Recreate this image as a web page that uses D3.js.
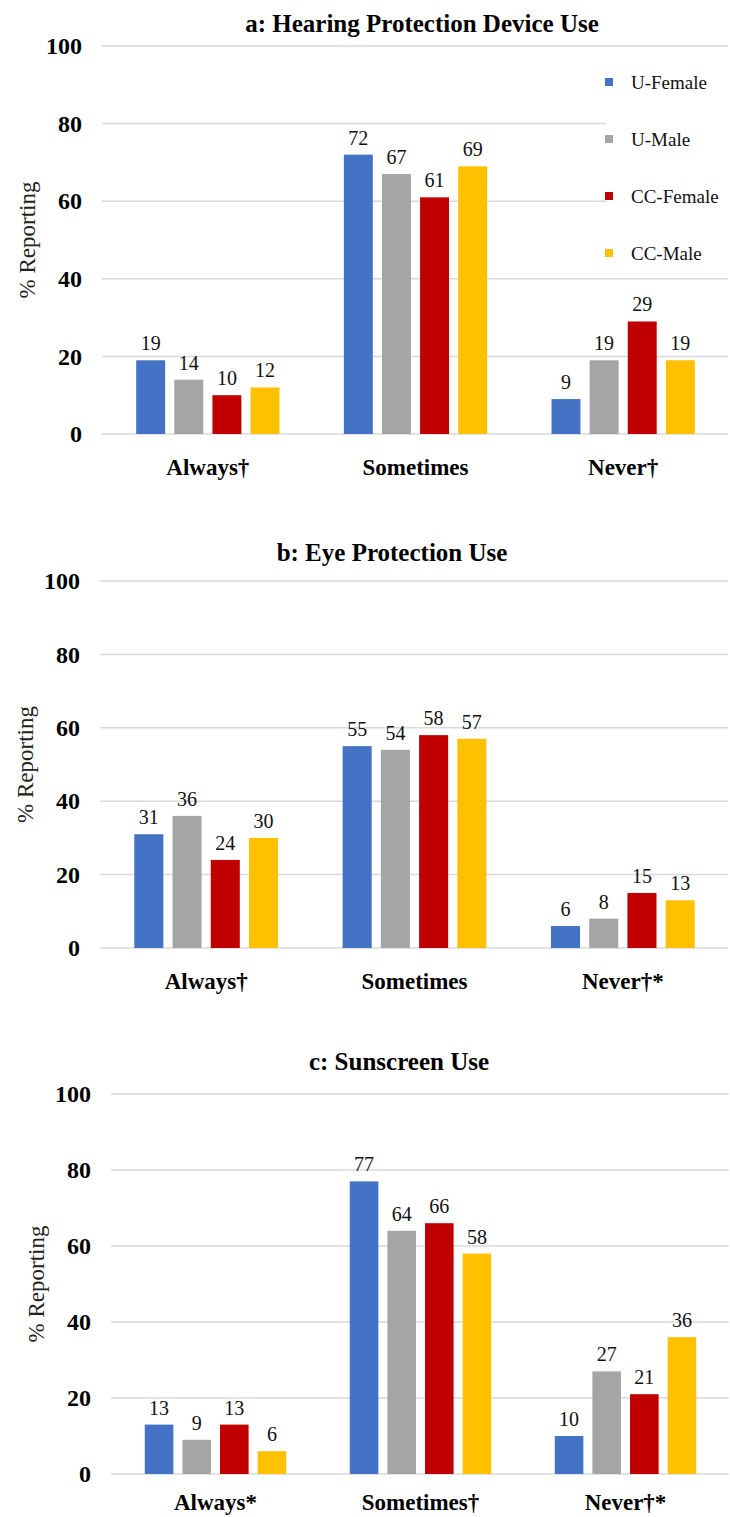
<!DOCTYPE html>
<html>
<head>
<meta charset="utf-8">
<script src="https://cdn.jsdelivr.net/npm/d3@7"></script>
<style>
  body { margin: 0; background: #fff; }
  svg { display: block; font-family: "Liberation Serif", "Times New Roman", serif; }
</style>
</head>
<body>
<svg id="chart"></svg>
<script>
const groups = ["U-Female", "U-Male", "CC-Female", "CC-Male"];
const yTicks = [0, 20, 40, 60, 80, 100];

const hearingTitle = "a: Hearing Protection Device Use";
const hearingLabels = ["Always†", "Sometimes", "Never†"];
const hearingValues = [[19, 14, 10, 12], [72, 67, 61, 69], [9, 19, 29, 19]];

const eyeTitle = "b: Eye Protection Use";
const eyeLabels = ["Always†", "Sometimes", "Never†*"];
const eyeValues = [[31, 36, 24, 30], [55, 54, 58, 57], [6, 8, 15, 13]];

const sunTitle = "c: Sunscreen Use";
const sunLabels = ["Always*", "Sometimes†", "Never†*"];
const sunValues = [[13, 9, 13, 6], [77, 64, 66, 58], [10, 27, 21, 36]];

const width = 730;
const height = 1517;
const fontFamily = "'Liberation Serif', 'Times New Roman', serif";

const color = d3.scaleOrdinal(groups, ["#4472C4", "#A5A5A5", "#C00000", "#FFC000"]);

const panels = [
  { title: hearingTitle, labels: hearingLabels, values: hearingValues,
    top: 46, bottom: 434, left: 104, right: 727, titleX: 422, titleY: 32, catPad: 25, legend: true },
  { title: eyeTitle, labels: eyeLabels, values: eyeValues,
    top: 581, bottom: 948, left: 102, right: 727, titleX: 392, titleY: 561, catPad: 25, legend: false },
  { title: sunTitle, labels: sunLabels, values: sunValues,
    top: 1094, bottom: 1474, left: 113, right: 728, titleX: 399, titleY: 1070, catPad: 20, legend: false }
];

const svg = d3.select("#chart").attr("width", width).attr("height", height);

svg.append("rect").attr("width", width).attr("height", height).attr("fill", "#fff");

panels.forEach(p => {
  const g = svg.append("g");
  const y = d3.scaleLinear([0, 100], [p.bottom, p.top]);
  const x0 = d3.scaleBand(p.labels, [p.left, p.right]).paddingInner(0.31).paddingOuter(0.155);
  const x1 = d3.scaleBand(groups, [0, x0.bandwidth()]).paddingInner(0.24);

  // gridlines
  g.append("g")
    .selectAll("line")
    .data(yTicks)
    .join("line")
    .attr("x1", p.left - 2)
    .attr("x2", p.right + 1)
    .attr("y1", d => y(d))
    .attr("y2", d => y(d))
    .attr("stroke", "#d9d9d9")
    .attr("stroke-width", 1.5);

  // legend sits over the gridlines with a white box
  if (p.legend) {
    const ly = d3.scalePoint(groups, [82, 253]);
    const leg = g.append("g");
    leg.append("rect")
      .attr("x", 606).attr("y", 58).attr("width", 124).attr("height", 214)
      .attr("fill", "#fff");
    leg.selectAll("rect.key")
      .data(groups)
      .join("rect")
      .attr("class", "key")
      .attr("x", 605)
      .attr("y", d => ly(d) - 4)
      .attr("width", 8)
      .attr("height", 8)
      .attr("fill", d => color(d));
    leg.selectAll("text")
      .data(groups)
      .join("text")
      .attr("x", 631)
      .attr("y", d => ly(d))
      .attr("dy", "0.35em")
      .attr("font-size", 19)
      .attr("fill", "#111")
      .text(d => d);
  }

  // y axis labels
  g.append("g")
    .attr("transform", `translate(${p.left},0)`)
    .call(d3.axisLeft(y).tickValues(yTicks).tickSize(0).tickPadding(22))
    .attr("font-family", fontFamily)
    .attr("font-size", 24)
    .attr("font-weight", "bold")
    .call(a => a.select(".domain").remove())
    .selectAll("text")
    .attr("fill", "#000");

  // axis title
  g.append("text")
    .attr("transform", `translate(${p.left - 69},${(p.top + p.bottom) / 2}) rotate(-90)`)
    .attr("text-anchor", "middle")
    .attr("font-size", 23)
    .attr("fill", "#222")
    .text("% Reporting");

  // panel title
  g.append("text")
    .attr("x", p.titleX)
    .attr("y", p.titleY)
    .attr("text-anchor", "middle")
    .attr("font-size", 25)
    .attr("font-weight", "bold")
    .attr("fill", "#000")
    .text(p.title);

  // bars
  const cat = g.append("g")
    .selectAll("g")
    .data(p.values)
    .join("g")
    .attr("transform", (d, i) => `translate(${x0(p.labels[i])},0)`);

  const cells = d => d.map((v, j) => ({ group: groups[j], value: v }));

  cat.selectAll("rect")
    .data(cells)
    .join("rect")
    .attr("x", d => x1(d.group))
    .attr("y", d => y(d.value))
    .attr("width", x1.bandwidth())
    .attr("height", d => y(0) - y(d.value))
    .attr("fill", d => color(d.group));

  cat.selectAll("text")
    .data(cells)
    .join("text")
    .attr("x", d => x1(d.group) + x1.bandwidth() / 2)
    .attr("y", d => y(d.value) - 10)
    .attr("text-anchor", "middle")
    .attr("font-size", 20)
    .attr("fill", "#111")
    .text(d => d.value);

  // category labels
  g.append("g")
    .attr("transform", `translate(0,${p.bottom})`)
    .call(d3.axisBottom(x0).tickSize(0).tickPadding(p.catPad))
    .attr("font-family", fontFamily)
    .attr("font-size", 23)
    .attr("font-weight", "bold")
    .call(a => a.select(".domain").remove())
    .selectAll("text")
    .attr("fill", "#000");
});
</script>
</body>
</html>
